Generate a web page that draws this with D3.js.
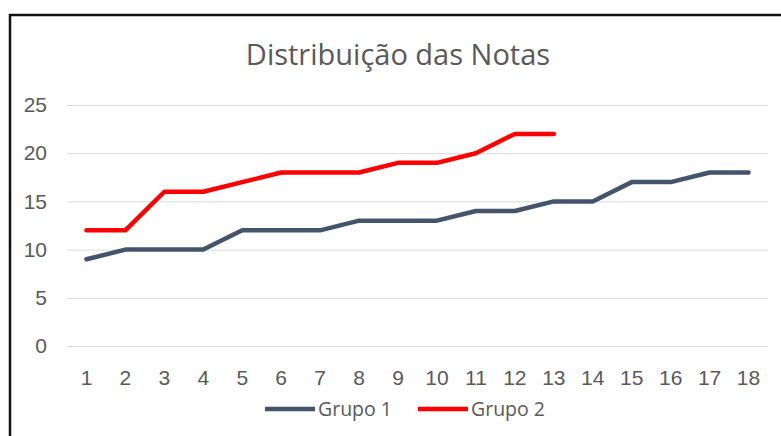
<!DOCTYPE html>
<html>
<head>
<meta charset="utf-8">
<script src="https://cdn.jsdelivr.net/npm/d3@7"></script>
<style>
  body { margin: 0; background: #fff; }
  svg { display: block; font-family: "Open Sans", sans-serif; }
  .grid line { stroke: #d9d9d9; stroke-width: 1px; }
  .tick text { fill: #595959; }
  .line { fill: none; stroke-width: 4.5px; stroke-linejoin: round; stroke-linecap: round; }
</style>
</head>
<body>
<svg id="chart"></svg>
<script>
// data
var categories = d3.range(1, 19)
var grupo1 = [9, 10, 10, 10, 12, 12, 12, 13, 13, 13, 14, 14, 15, 15, 17, 17, 18, 18]
var grupo2 = [12, 12, 16, 16, 17, 18, 18, 18, 19, 19, 20, 22, 22]
var yTicks = [0, 5, 10, 15, 20, 25]
var seriesNames = ['Grupo 1', 'Grupo 2']
var seriesColors = ['#44546a', '#ff0000']

var width = 781, height = 436

var svg = d3.select('#chart')
  .attr('width', width)
  .attr('height', height)

// chart frame (runs past the right and bottom edges)
svg.append('rect')
  .attr('x', 10).attr('y', 15)
  .attr('width', 800).attr('height', 500)
  .attr('fill', '#fff')
  .attr('stroke', '#111')
  .attr('stroke-width', 2.5)

var x = d3.scaleBand().domain(categories).range([67, 768])
var y = d3.scaleLinear().domain([0, 25]).range([346, 105])
var cx = function(i) { return x(categories[i]) + x.bandwidth() / 2 }

// title
svg.append('text')
  .attr('x', 398).attr('y', 65)
  .attr('text-anchor', 'middle')
  .attr('fill', '#595959')
  .style('font-size', '29px')
  .text('Distribuição das Notas')

// gridlines + y labels
var yAxis = svg.append('g')
  .attr('class', 'grid')
  .attr('transform', 'translate(67,0)')
  .call(d3.axisLeft(y).tickValues(yTicks).tickSize(-(768 - 67)).tickPadding(20))
yAxis.select('.domain').remove()
yAxis.selectAll('.tick text').style('font-size', '21px')

// x labels
var xAxis = svg.append('g')
  .attr('transform', 'translate(0,346)')
  .call(d3.axisBottom(x).tickSize(0).tickPadding(24))
xAxis.select('.domain').remove()
xAxis.selectAll('.tick text').style('font-size', '21px')

var line = d3.line()
  .x(function(d, i) { return cx(i) })
  .y(function(d) { return y(d) })

;[grupo1, grupo2].forEach(function(s, k) {
  svg.append('path')
    .datum(s)
    .attr('class', 'line')
    .attr('stroke', seriesColors[k])
    .attr('d', line)
})

// legend
var legendX = [265, 418]
seriesNames.forEach(function(name, k) {
  var g = svg.append('g').attr('transform', 'translate(' + legendX[k] + ',409)')
  g.append('line')
    .attr('x1', 0).attr('x2', 50)
    .attr('stroke', seriesColors[k])
    .attr('stroke-width', 4.5)
  g.append('text')
    .attr('x', 53).attr('dy', '0.35em')
    .attr('fill', '#595959')
    .style('font-size', '19.5px')
    .text(name)
})
</script>
</body>
</html>
